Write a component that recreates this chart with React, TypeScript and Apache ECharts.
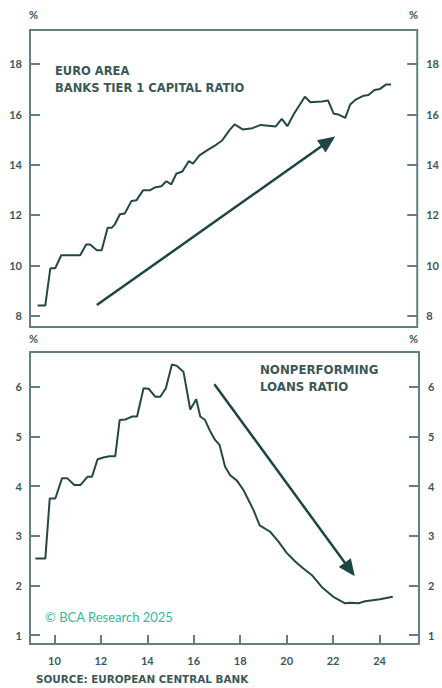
import React, { useEffect, useRef } from "react";
import * as echarts from "echarts";

// Euro area banks tier 1 capital ratio (%), x = year (20xx, decimal)
const capYears = [9.28, 9.61, 9.83, 10.04, 10.30, 11.12, 11.38, 11.55, 11.84, 12.05, 12.31, 12.48, 12.62, 12.84, 13.05, 13.34, 13.56, 13.84, 14.13, 14.34, 14.63, 14.85, 15.06, 15.28, 15.54, 15.82, 16.0, 16.28, 16.64, 17.0, 17.26, 17.57, 17.8, 18.15, 18.57, 18.93, 19.58, 19.84, 20.08, 20.37, 20.84, 21.08, 21.58, 21.84, 22.09, 22.30, 22.59, 22.80, 23.02, 23.38, 23.59, 23.85, 24.09, 24.34, 24.57];
const capValues = [8.40, 8.40, 9.88, 9.88, 10.40, 10.40, 10.83, 10.83, 10.60, 10.60, 11.49, 11.49, 11.63, 12.03, 12.06, 12.56, 12.59, 12.98, 12.98, 13.09, 13.14, 13.34, 13.22, 13.64, 13.73, 14.14, 14.04, 14.37, 14.59, 14.79, 14.96, 15.36, 15.60, 15.40, 15.45, 15.58, 15.52, 15.82, 15.53, 16.02, 16.70, 16.48, 16.51, 16.55, 16.02, 15.99, 15.86, 16.39, 16.57, 16.74, 16.77, 16.97, 17.01, 17.18, 17.18];

// Nonperforming loans ratio (%)
const nplYears = [9.18, 9.61, 9.80, 10.04, 10.33, 10.55, 10.86, 11.12, 11.43, 11.62, 11.86, 12.15, 12.38, 12.62, 12.81, 13.05, 13.34, 13.56, 13.84, 14.06, 14.34, 14.56, 14.80, 15.06, 15.28, 15.56, 15.85, 16.11, 16.28, 16.49, 16.68, 16.92, 17.11, 17.35, 17.57, 17.86, 18.14, 18.57, 18.84, 19.29, 19.65, 20.01, 20.37, 20.72, 21.08, 21.51, 22.01, 22.52, 22.73, 23.09, 23.38, 24.02, 24.57];
const nplValues = [2.54, 2.54, 3.75, 3.75, 4.16, 4.16, 4.02, 4.02, 4.19, 4.19, 4.54, 4.58, 4.60, 4.60, 5.33, 5.34, 5.40, 5.40, 5.97, 5.96, 5.80, 5.80, 5.97, 6.45, 6.42, 6.30, 5.54, 5.75, 5.40, 5.33, 5.13, 4.93, 4.83, 4.39, 4.22, 4.11, 3.92, 3.52, 3.21, 3.08, 2.88, 2.65, 2.48, 2.34, 2.21, 1.97, 1.77, 1.64, 1.65, 1.64, 1.68, 1.72, 1.77];

// Trend arrows: [start, end] in data coordinates
const capArrow = [[11.84, 8.42], [21.85, 14.92]];
const nplArrow = [[16.89, 6.05], [22.72, 2.32]];

const capTicks = [8, 10, 12, 14, 16, 18];
const nplTicks = [1, 2, 3, 4, 5, 6];
const yearTicks = [10, 12, 14, 16, 18, 20, 22, 24];

const FRAME = "#62807f";
const LINE = "#244749";
const TEXT = "#3b5858";
const FONT = "Lato, 'Open Sans', sans-serif";
const WIDE = "'DejaVu Sans', Lato, sans-serif";

export default function App() {
  const ref = useRef<HTMLDivElement>(null);
  useEffect(() => {
    if (!ref.current) return;
    const chart = echarts.init(ref.current, null, { renderer: "svg" });
    const labelStyle = { color: TEXT, fontSize: 11, fontWeight: "bold" as const, fontFamily: FONT };
    const yAxis = (gridIndex: number, min: number, max: number, ticks: number[], position: string) => ({
      type: "value",
      gridIndex,
      position,
      min,
      max,
      splitLine: { show: false },
      axisLine: { show: false },
      axisTick: { show: true, inside: true, length: 10, customValues: ticks, lineStyle: { color: FRAME, width: 2 } },
      axisLabel: { ...labelStyle, customValues: ticks, margin: position === "left" ? 8 : 9 },
    });
    const toPairs = (xs: number[], ys: number[]) => xs.map((x, i) => [x, ys[i]]);
    const arrow = (a: number[][]) => ({
      silent: true,
      symbol: ["none", "triangle"],
      symbolSize: [15, 17],
      label: { show: false },
      lineStyle: { color: "#1f4446", width: 2.5, type: "solid" },
      itemStyle: { color: "#1f4446" },
      data: [[{ coord: a[0] }, { coord: a[1] }]],
    });
    const gridBase = { left: 30, right: 23, show: true, borderColor: FRAME, borderWidth: 2, backgroundColor: "transparent" };
    chart.setOption({
      animation: false,
      grid: [
        { ...gridBase, top: 30, height: 297 },
        { ...gridBase, top: 352, height: 292 },
      ],
      xAxis: [
        { type: "value", gridIndex: 0, min: 8.95, max: 25.7, axisLine: { show: false }, axisTick: { show: false }, axisLabel: { show: false }, splitLine: { show: false } },
        {
          type: "value", gridIndex: 1, min: 8.95, max: 25.7,
          axisLine: { show: false },
          splitLine: { show: false },
          axisTick: { show: true, inside: true, length: 9, customValues: yearTicks, lineStyle: { color: FRAME, width: 2 } },
          axisLabel: { ...labelStyle, customValues: yearTicks, margin: 11 },
        },
      ],
      yAxis: [
        yAxis(0, 7.55, 19.35, capTicks, "left"),
        yAxis(0, 7.55, 19.35, capTicks, "right"),
        yAxis(1, 0.82, 6.7, nplTicks, "left"),
        yAxis(1, 0.82, 6.7, nplTicks, "right"),
      ],
      series: [
        {
          type: "line", xAxisIndex: 0, yAxisIndex: 0, data: toPairs(capYears, capValues),
          showSymbol: false, lineStyle: { color: LINE, width: 2 }, markLine: arrow(capArrow),
        },
        {
          type: "line", xAxisIndex: 1, yAxisIndex: 2, data: toPairs(nplYears, nplValues),
          showSymbol: false, lineStyle: { color: LINE, width: 2 }, markLine: arrow(nplArrow),
        },
      ],
      graphic: [
        { type: "text", left: 29, top: 9, style: { text: "%", fill: TEXT, font: `bold 11px ${FONT}` } },
        { type: "text", left: 409, top: 9, style: { text: "%", fill: TEXT, font: `bold 11px ${FONT}` } },
        { type: "text", left: 29, top: 333, style: { text: "%", fill: TEXT, font: `bold 11px ${FONT}` } },
        { type: "text", left: 409, top: 333, style: { text: "%", fill: TEXT, font: `bold 11px ${FONT}` } },
        { type: "text", left: 55, top: 62, style: { text: "EURO AREA\nBANKS TIER 1 CAPITAL RATIO", fill: TEXT, font: `bold 11.5px ${WIDE}`, lineHeight: 17 } },
        { type: "text", left: 260, top: 361, style: { text: "NONPERFORMING\nLOANS RATIO", fill: TEXT, font: `bold 11.8px ${WIDE}`, lineHeight: 17 } },
        { type: "text", left: 45, top: 610, style: { text: "© BCA Research 2025", fill: "#3cb79c", font: `13px ${FONT}` } },
        { type: "text", left: 36, top: 674, style: { text: "SOURCE: EUROPEAN CENTRAL BANK", fill: TEXT, font: `bold 10.4px ${WIDE}` } },
      ],
    });
    return () => chart.dispose();
  }, []);
  return <div ref={ref} style={{ position: "fixed", left: 0, top: 0, width: 442, height: 688, background: "#fff" }} />;
}
